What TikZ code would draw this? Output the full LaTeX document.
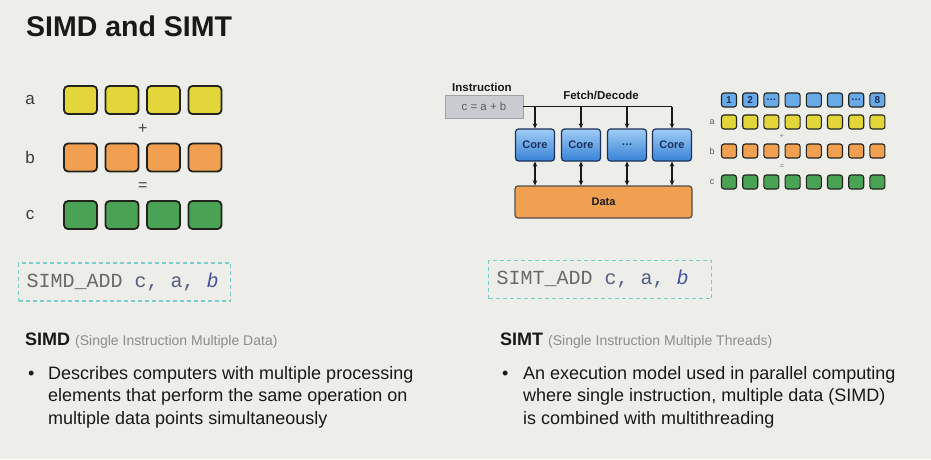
\documentclass[tikz,border=0pt]{standalone}
\usepackage{fontspec}
\setmainfont{Liberation Sans}
\setmonofont{Liberation Mono}
\usetikzlibrary{arrows.meta}

\definecolor{bgcol}{RGB}{237,237,233}
\definecolor{cellline}{RGB}{35,35,30}
\definecolor{cyel}{RGB}{226,214,58}
\definecolor{corg}{RGB}{240,160,80}
\definecolor{cgrn}{RGB}{74,162,84}
\definecolor{cblue}{RGB}{105,170,232}
\definecolor{coretop}{RGB}{160,205,245}
\definecolor{corebot}{RGB}{55,130,215}
\definecolor{navy}{RGB}{28,48,88}
\definecolor{instrfill}{RGB}{200,204,208}
\definecolor{dashcol}{RGB}{120,205,198}
\definecolor{codegray}{RGB}{105,105,105}
\definecolor{codeblue}{RGB}{85,95,130}
\definecolor{codeital}{RGB}{70,85,160}
\definecolor{subgray}{RGB}{140,140,140}
\definecolor{ink}{RGB}{25,25,25}

\tikzset{
  cell/.style={draw=cellline, line width=1.8pt, rounded corners=4pt,
    minimum width=33pt, minimum height=28pt, inner sep=0pt},
  lane/.style={draw=cellline, line width=1.1pt, rounded corners=2.5pt,
    minimum width=15pt, minimum height=14pt, inner sep=0pt,
    font=\fontsize{10}{10}\selectfont\bfseries, text=navy},
  rowlbl/.style={font=\fontsize{17}{17}\selectfont, text=ink!85},
  smlbl/.style={font=\fontsize{9}{9}\selectfont, text=ink!70},
  bigop/.style={font=\fontsize{16}{16}\selectfont, text=ink!80},
  smop/.style={font=\fontsize{7}{7}\selectfont, text=ink!60},
  corebox/.style={draw=navy, line width=1.2pt, rounded corners=3pt,
    top color=coretop, bottom color=corebot,
    minimum width=39pt, minimum height=32pt, inner sep=0pt,
    font=\fontsize{11}{11}\selectfont\bfseries, text=navy},
  databox/.style={draw=cellline!80, line width=1.2pt, rounded corners=3pt,
    fill=corg, minimum width=177pt, minimum height=32pt,
    font=\fontsize{11}{11}\selectfont\bfseries, text=ink},
  instrbox/.style={fill=instrfill, draw=instrfill!80!black, line width=0.4pt,
    minimum width=78pt, minimum height=23pt, inner sep=0pt,
    font=\fontsize{11.5}{11.5}\selectfont, text=ink!70},
  smbold/.style={font=\fontsize{11.5}{11.5}\selectfont\bfseries, text=ink,
    inner sep=0pt},
  wire/.style={line width=1.3pt, draw=ink},
  arr/.style={wire, -{Stealth[length=5pt,width=4.5pt]}},
  dbl/.style={wire, {Stealth[length=5pt,width=4.5pt]}-{Stealth[length=5pt,width=4.5pt]}},
  codebox/.style={draw=dashcol, line width=1.2pt, dash pattern=on 4pt off 3pt,
    inner xsep=8pt, inner ysep=0pt, minimum height=38pt, align=left,
    font=\fontsize{20}{22}\ttfamily},
  head/.style={anchor=base west, inner sep=0pt,
    font=\fontsize{18}{22}\selectfont\bfseries, text=ink},
  bul/.style={anchor=base west, inner sep=0pt,
    font=\fontsize{18}{22.5}\selectfont, text=ink},
  % base of a multi-line node is its last line
  body/.style={anchor=base west, inner sep=0pt, align=left,
    font=\fontsize{18}{22.5}\selectfont, text=ink}
}
\newcommand{\subtxt}[1]{{\fontsize{14}{16}\selectfont\mdseries\color{subgray}#1}}
\newcommand{\csp}{\hspace{0.6em}}

\begin{document}
\begin{tikzpicture}[x=1pt,y=-1pt]
  \fill[bgcol] (0,0) rectangle (931,459);
  \useasboundingbox (0,0) rectangle (931,459);

  % Title
  \node[anchor=base west, inner sep=0pt, text=ink,
    font=\fontsize{28.5}{30}\selectfont\bfseries] (title) at (26,36) {SIMD and SIMT};

  % SIMD: three rows of four lanes
  \foreach \row/\y/\col in {a/100/cyel, b/157.5/corg, c/215/cgrn} {
    \node[rowlbl] (l\row) at (30,\y) {\row};
    \foreach \i in {1,...,4}
      \node[cell, fill=\col] (\row\i) at (39+41.5*\i,\y) {};
  }
  \path (a2) -- (b3) node[bigop, midway] (plus) {+};
  \path (b2) -- (c3) node[bigop, midway] (equal) {=};

  % SIMT: instruction, fetch/decode and cores
  \node[instrbox] (instr) at (484,106.5) {c = a + b};
  \node[smbold, anchor=base west] (instrlbl) at (452,91) {Instruction};
  \node[smbold, anchor=base] (fetch) at (601,99) {Fetch/Decode};

  \foreach \k/\x/\t in {1/535/Core, 2/581/Core, 3/627/\dots, 4/672/Core}
    \node[corebox] (core\k) at (\x,145) {\t};
  \node[databox] (data) at (603.5,202) {Data};

  % Draw fetch line and streams
  \coordinate (fetchend) at (instr.east -| core4);
  \draw[wire] (instr.east) -- (fetchend);
  \foreach \k in {1,...,4} {
    \draw[arr] (instr.east -| core\k) -- (core\k.north);
    \draw[dbl] (core\k.south) -- (data.north -| core\k);
  }

  % SIMT: threads over eight lanes
  \foreach \i/\t in {1/1, 2/2, 3/{\dots}, 4/{}, 5/{}, 6/{}, 7/{\dots}, 8/8}
    \node[lane, fill=cblue] (t\i) at (707.8+21.2*\i,100) {\t};
  \foreach \row/\y/\col in {a/122/cyel, b/151/corg, c/182/cgrn} {
    \node[smlbl] (s\row) at (712,\y) {\row};
    \foreach \i in {1,...,8}
      \node[lane, fill=\col] (s\row\i) at (707.8+21.2*\i,\y) {};
  }
  \path (sa3) -- (sb4) node[smop, midway] (splus) {+};
  \path (sb3) -- (sc4) node[smop, midway] (sequal) {=};

  % Code lines
  \node[codebox, text width=196pt, anchor=west] (simdcode) at (18,282)
    {\color{codegray}SIMD\_ADD\csp\color{codeblue}c,\csp a,\csp\color{codeital}\textit{b}};
  \node[codebox, text width=207pt, anchor=west] (simtcode) at (488,279.5)
    {\color{codegray}SIMT\_ADD\csp\color{codeblue}c,\csp a,\csp\color{codeital}\textit{b}};

  % Definitions
  \node[head] (simdhead) at (25,345) {SIMD \subtxt{(Single Instruction Multiple Data)}};
  \node[bul] (simddot) at (28,379) {\textbullet};
  \node[body] (simdtext) at (48,424)
    {Describes computers with multiple processing\\
     elements that perform the same operation on\\
     multiple data points simultaneously};

  \node[head] (simthead) at (500,345) {SIMT \subtxt{(Single Instruction Multiple Threads)}};
  \node[bul] (simtdot) at (502,379) {\textbullet};
  \node[body] (simttext) at (523,424)
    {An execution model used in parallel computing\\
     where single instruction, multiple data (SIMD)\\
     is combined with multithreading};
\end{tikzpicture}
\end{document}
